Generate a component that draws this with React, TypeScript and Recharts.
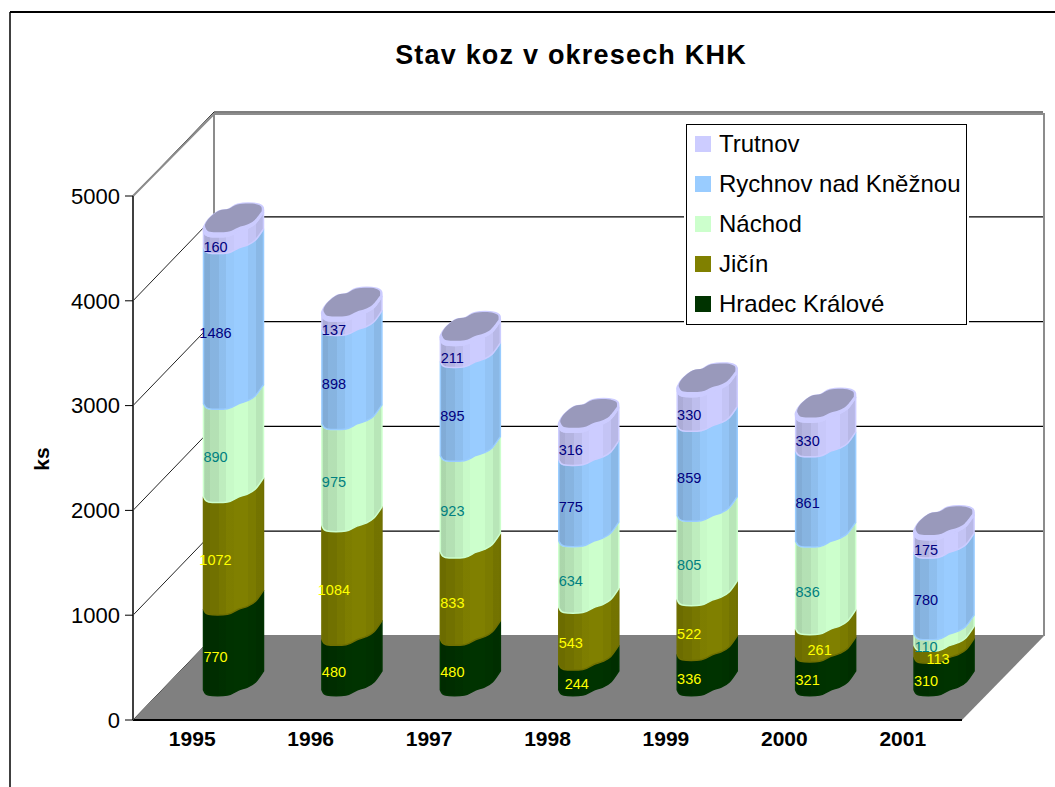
import React from "react";
import { Bar, BarChart, CartesianGrid, LabelList, Legend, XAxis, YAxis } from "recharts";

const years = ["1995", "1996", "1997", "1998", "1999", "2000", "2001"];
const hradec = [770, 480, 480, 244, 336, 321, 310];
const jicin = [1072, 1084, 833, 543, 522, 261, 113];
const nachod = [890, 975, 923, 634, 805, 836, 110];
const rychnov = [1486, 898, 895, 775, 859, 861, 780];
const trutnov = [160, 137, 211, 316, 330, 330, 175];
const yTicks = [0, 1000, 2000, 3000, 4000, 5000];

const rows = years.map((year, i) => ({
  year,
  "Hradec Králové": hradec[i],
  "Jičín": jicin[i],
  "Náchod": nachod[i],
  "Rychnov nad Kněžnou": rychnov[i],
  "Trutnov": trutnov[i],
}));

const FONT = "'Liberation Sans', Arial, sans-serif";
const DEPTH_X = 81;
const DEPTH_Y = 84;
const BAR_SHIFT = DEPTH_X / 2 + 1;
const WALL = "#8c8c8c";

// outline of the bar's cross section, relative to its centre
const frontCurve = [[-30, 12], [-25, 17], [-6, 17], [5, 12], [14, 9], [22, 4], [30, -7]];
const backCurve = [[30, -7], [29, -13], [20, -16], [4, -15], [-5, -10], [-15, -8], [-25, 0], [-30, 8], [-30, 12]];

const smooth = (pts: number[][]) => {
  let d = "";
  for (let i = 0; i < pts.length - 1; i++) {
    const p0 = pts[Math.max(i - 1, 0)];
    const p1 = pts[i];
    const p2 = pts[i + 1];
    const p3 = pts[Math.min(i + 2, pts.length - 1)];
    const c1 = [p1[0] + (p2[0] - p0[0]) / 6, p1[1] + (p2[1] - p0[1]) / 6];
    const c2 = [p2[0] - (p3[0] - p1[0]) / 6, p2[1] - (p3[1] - p1[1]) / 6];
    d += ` C${c1[0]} ${c1[1]} ${c2[0]} ${c2[1]} ${p2[0]} ${p2[1]}`;
  }
  return d;
};

const moved = (pts: number[][], cx: number, cy: number, sx = 1, sy = 1, dy = 0) =>
  pts.map(([x, y]) => [cx + x * sx, cy + y * sy + dy]);

const Cylinder = (props: any) => {
  const { x, y, width, height, color, edge, top } = props;
  const cx = x + width / 2 + BAR_SHIFT;
  const yTop = y - DEPTH_Y / 2;
  const yBottom = y + height - DEPTH_Y / 2;
  const lower = moved(frontCurve, cx, yBottom);
  const upper = moved(frontCurve, cx, yTop).reverse();
  const side =
    `M${lower[0][0]} ${lower[0][1]}` + smooth(lower) + ` L${upper[0][0]} ${upper[0][1]}` + smooth(upper) + " Z";
  const blob = (sx: number, sy: number, dy: number) => {
    const f = moved(frontCurve, cx, yTop, sx, sy, dy);
    const b = moved(backCurve, cx, yTop, sx, sy, dy);
    return `M${f[0][0]} ${f[0][1]}` + smooth(f) + smooth(b) + " Z";
  };
  return (
    <g>
      <path d={side} fill={color} />
      <path d={side} fill="url(#facets)" stroke={edge} strokeWidth={1.5} strokeLinejoin="round" />
      {top ? (
        <g>
          <path d={blob(1, 1, 0)} fill={color} stroke={edge} strokeWidth={1.5} />
          <path d={blob(0.94, 0.85, -2)} fill="#9999bb" />
        </g>
      ) : null}
    </g>
  );
};

const segmentLabel = (color: string, shift: (value: number) => number) => (props: any) => {
  const { x, y, width, height, value } = props;
  return (
    <text
      x={x + width / 2 + BAR_SHIFT + shift(value)}
      y={y + height / 2 - DEPTH_Y / 2 + 19}
      fill={color}
      fontFamily={FONT}
      fontSize={14.5}
      textAnchor="middle"
      dominantBaseline="central"
    >
      {value}
    </text>
  );
};

const series = [
  { name: "Hradec Králové", color: "#003300", edge: "#003300", text: "#ffff00", shift: (v: number) => (v < 300 ? -12 : -18) },
  { name: "Jičín", color: "#808000", edge: "#6f6f00", text: "#ffff00", shift: (v: number) => (v < 300 ? -6 : -18) },
  { name: "Náchod", color: "#ccffcc", edge: "#ccffcc", text: "#008080", shift: () => -18 },
  { name: "Rychnov nad Kněžnou", color: "#99ccff", edge: "#99ccff", text: "#000080", shift: () => -18 },
  { name: "Trutnov", color: "#ccccff", edge: "#ccccff", text: "#000080", shift: () => -18 },
];

// gridlines are drawn on the back wall and joined to the axis along the side wall
const wallGrid = (p: any) => {
  const { x1, y1, x2 } = p;
  const backY = y1 - DEPTH_Y;
  return (
    <g key={`grid-${y1}`}>
      <line x1={x1} y1={y1} x2={x1 + DEPTH_X} y2={backY} stroke="#222" strokeWidth={1} />
      <line x1={x1 + DEPTH_X} y1={backY} x2={x2 + DEPTH_X} y2={backY} stroke="#000" strokeWidth={1.2} />
    </g>
  );
};

const LegendBox = ({ payload }: any) => (
  <div style={{ width: 279, height: 199, border: "1px solid #000", background: "#fff", boxShadow: "0 0 0 2px #fff", fontFamily: FONT, color: "#000" }}>
    {[...(payload || [])].reverse().map((item: any, i: number) => (
      <div key={item.value} style={{ position: "absolute", left: 9, top: i * 40, height: 40, display: "flex", alignItems: "center", whiteSpace: "nowrap", fontSize: 24 }}>
        <span style={{ width: 16, height: 16, background: item.color, marginRight: 8, display: "inline-block" }} />
        {item.value}
      </div>
    ))}
  </div>
);

export default function App() {
  return (
    <div style={{ position: "absolute", left: 0, top: 0, width: 1055, height: 787, background: "#fff" }}>
      <BarChart
        width={1055}
        height={787}
        data={rows}
        barSize={60}
        margin={{ top: 196, right: 93, bottom: 27, left: 63 }}
      >
        <defs>
          <linearGradient id="facets" x1="0" y1="0" x2="1" y2="0">
            <stop offset="0" stopColor="#000" stopOpacity={0.16} />
            <stop offset="0.1" stopColor="#000" stopOpacity={0.16} />
            <stop offset="0.1" stopColor="#000" stopOpacity={0.12} />
            <stop offset="0.25" stopColor="#000" stopOpacity={0.12} />
            <stop offset="0.25" stopColor="#000" stopOpacity={0.07} />
            <stop offset="0.38" stopColor="#000" stopOpacity={0.07} />
            <stop offset="0.38" stopColor="#000" stopOpacity={0.02} />
            <stop offset="0.5" stopColor="#000" stopOpacity={0.02} />
            <stop offset="0.5" stopColor="#000" stopOpacity={0} />
            <stop offset="0.74" stopColor="#000" stopOpacity={0} />
            <stop offset="0.74" stopColor="#000" stopOpacity={0.04} />
            <stop offset="0.87" stopColor="#000" stopOpacity={0.04} />
            <stop offset="0.87" stopColor="#000" stopOpacity={0.1} />
            <stop offset="1" stopColor="#000" stopOpacity={0.1} />
          </linearGradient>
        </defs>
        <line x1={10} y1={12} x2={10} y2={787} stroke="#404040" strokeWidth={2} />
        <line x1={10} y1={12} x2={1055} y2={12} stroke="#000" strokeWidth={2} />
        <polygon points="133,720 962,720 1044,636 214,636" fill="#808080" />
        <CartesianGrid vertical={false} horizontal={wallGrid} />
        <path d="M133 196 L214 114 L1044 114 L1044 636 M214 114 L214 636" fill="none" stroke={WALL} strokeWidth={2} />
        <XAxis
          dataKey="year"
          height={40}
          axisLine={{ stroke: "#000", strokeWidth: 2 }}
          tickLine={false}
          tickMargin={5}
          tick={{ fontSize: 21, fontWeight: 700, fontFamily: FONT, fill: "#000" }}
        />
        <YAxis
          width={70}
          domain={[0, 5000]}
          ticks={yTicks}
          tickSize={8}
          tickMargin={5}
          interval={0}
          axisLine={{ stroke: "#404040", strokeWidth: 2 }}
          tickLine={{ stroke: "#000" }}
          tick={{ fontSize: 22, fontFamily: FONT, fill: "#000" }}
        />
        {series.map((s) => (
          <Bar
            key={s.name}
            dataKey={s.name}
            stackId="koz"
            fill={s.color}
            isAnimationActive={false}
            shape={(p: any) => <Cylinder {...p} color={s.color} edge={s.edge} top={s.name === "Trutnov"} />}
          >
            <LabelList dataKey={s.name} content={segmentLabel(s.text, s.shift)} />
          </Bar>
        ))}
        <Legend
          layout="vertical"
          align="center"
          verticalAlign="middle"
          itemSorter={null}
          content={<LegendBox />}
          wrapperStyle={{ position: "absolute", left: 686, top: 124, width: 281, height: 201, bottom: "auto", right: "auto" }}
        />
        <text x={571} y={64} textAnchor="middle" fontFamily={FONT} fontSize={27} fontWeight={700} letterSpacing={1.2}>
          Stav koz v okresech KHK
        </text>
        <text
          transform="translate(41 459) rotate(-90)"
          textAnchor="middle"
          dominantBaseline="central"
          fontFamily={FONT}
          fontSize={21}
          fontWeight={700}
        >
          ks
        </text>
      </BarChart>
    </div>
  );
}
